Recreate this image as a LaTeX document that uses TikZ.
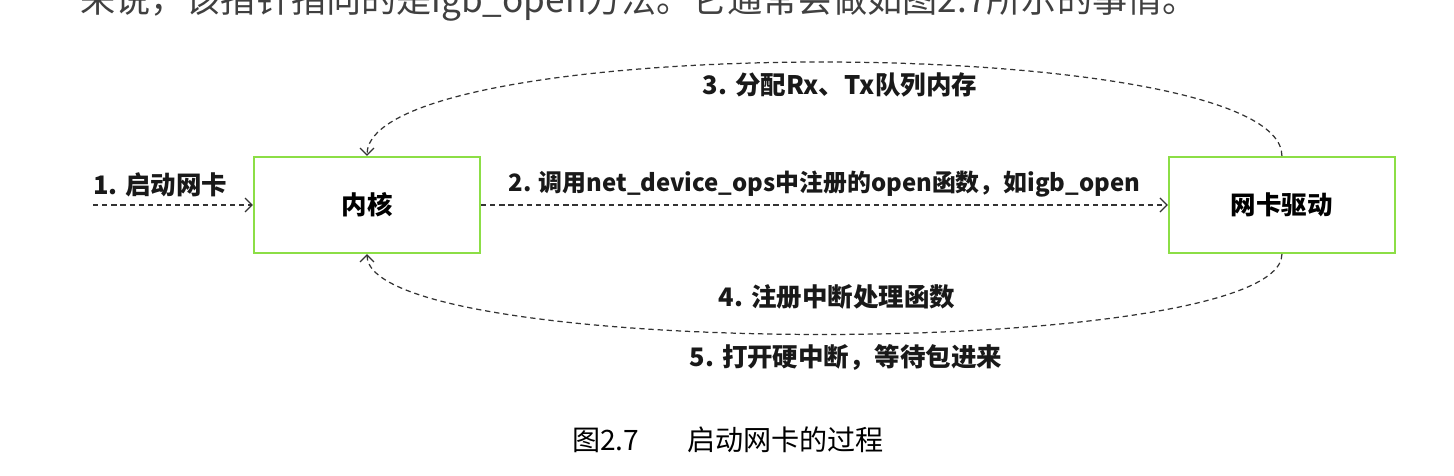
\documentclass[tikz,border=0pt]{standalone}
\usepackage{fontspec}
\newfontfamily\cjk{Noto Sans CJK SC}
\usepackage{xcolor}
\usetikzlibrary{positioning,arrows.meta}

\definecolor{boxgreen}{RGB}{140,222,70}

\begin{document}
\begin{tikzpicture}[
    x=0.02cm, y=-0.02cm,
    node distance=13.74cm,
    box/.style={
        rectangle,
        draw=boxgreen,
        fill=white,
        line width=1.2pt,
        minimum width=4.52cm,
        minimum height=1.92cm,
        font=\cjk\bfseries\fontsize{14.5}{17}\selectfont
    },
    lbl/.style={font=\cjk\bfseries\fontsize{14.5}{17}\selectfont, text=black!90},
    arrow/.style={-{Straight Barb[length=4pt,width=8pt]}, dash pattern=on 3pt off 2.2pt, line width=0.7pt, draw=black!80}
]
\useasboundingbox (0,0) rectangle (1454,476);

% cut-off line of the page above the figure
\begin{scope}
\clip (0,0) rectangle (1454,476);
\node[anchor=west, inner sep=0, text=black!75, font=\cjk\fontsize{20}{24}\selectfont] (intro) at (80,2)
{来说，该指针指向的是igb\_open方法。它通常会做如图2.7所示的事情。};
\end{scope}

\node[box] (kernel) at (367,205) {内核};
\node[box] (driver) [right=of kernel] {网卡驱动};
\coordinate (start) at (93,205);

\draw[arrow] (start) -- node[lbl, above=1pt, pos=0.42] {1. 启动网卡} (kernel);
\draw[arrow] (kernel) -- node[lbl, above=1pt, font=\cjk\bfseries\fontsize{13.6}{16}\selectfont] {2. 调用net\_device\_ops中注册的open函数，如igb\_open} (driver);
\draw[arrow] (driver.north) .. controls +(0,-125) and +(0,-125) .. (kernel.north);
\draw[arrow] (driver.south) .. controls +(0,107) and +(0,107) .. (kernel.south);

\node[lbl] (alloc) at (840,85) {3. 分配Rx、Tx队列内存};
\node[lbl] (irq) at (837,297) {4. 注册中断处理函数};
\node[lbl] (hardirq) at (846,357) {5. 打开硬中断，等待包进来};

\node[font=\cjk\fontsize{16}{19}\selectfont] (caption) at (728,440) {图2.7\hspace{1.7em}启动网卡的过程};

\end{tikzpicture}
\end{document}
